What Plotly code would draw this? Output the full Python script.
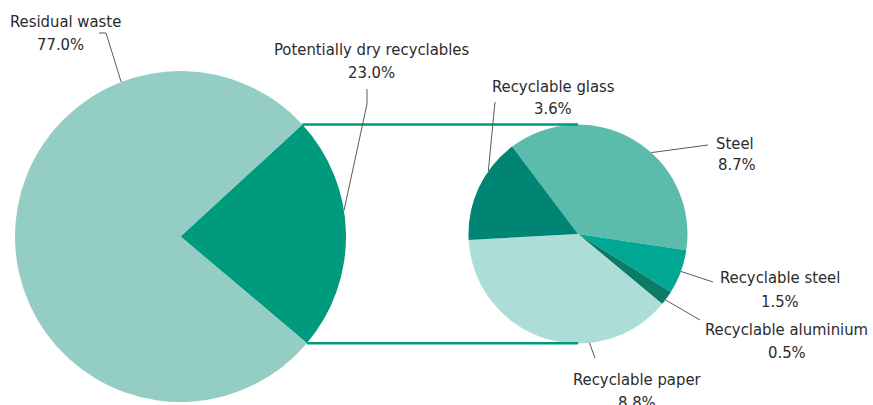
import math
import plotly.graph_objects as go

W, H = 873, 405

# Main split of household waste
main_labels = ["Potentially dry recyclables", "Residual waste"]
main_values = [23.0, 77.0]
main_colors = ["#009a7d", "#93cdc3"]

# Breakdown of the potentially dry recyclables
sub_labels = ["Steel", "Recyclable steel", "Recyclable aluminium", "Recyclable paper", "Recyclable glass"]
sub_values = [8.7, 1.5, 0.5, 8.8, 3.6]
sub_colors = ["#5bbcab", "#00a893", "#0a7c66", "#acddd8", "#008575"]

FONT = "DejaVu Sans Condensed, Liberation Sans Narrow, sans-serif"
FONT_SIZE = 16.5
TEXT_COLOR = "#2b2b2b"
LEADER_COLOR = "#5a5a5a"
LINK_COLOR = "#00997a"

# pie geometry in pixels: centre x, centre y, radius, start angle (deg, counter-clockwise from 3 o'clock)
BIG = dict(cx=180.5, cy=236.5, r=165.5, start=42.6)
SMALL = dict(cx=578.0, cy=234.0, r=109.5, start=127.0)


def px(x):
    return x / W


def py(y):
    return 1 - y / H


def domain(p):
    return dict(x=[px(p["cx"] - p["r"]), px(p["cx"] + p["r"])],
                y=[py(p["cy"] + p["r"]), py(p["cy"] - p["r"])])


def edge(p, ang):
    a = math.radians(ang)
    return p["cx"] + p["r"] * math.cos(a), p["cy"] - p["r"] * math.sin(a)


fig = go.Figure()
for p, labels, values, colors in [(BIG, main_labels, main_values, main_colors),
                                  (SMALL, sub_labels, sub_values, sub_colors)]:
    fig.add_trace(go.Pie(
        labels=labels, values=values, sort=False, direction="clockwise",
        rotation=90 - p["start"], domain=domain(p),
        marker=dict(colors=colors, line=dict(width=0)),
        textinfo="none", hoverinfo="label+percent", showlegend=False,
    ))

shapes = []

# connectors from the recyclables slice to the breakdown pie
sweep = main_values[0] / sum(main_values) * 360
for ang in (BIG["start"], BIG["start"] - sweep):
    x0, y0 = edge(BIG, ang)
    shapes.append(dict(type="line", xref="paper", yref="paper",
                       x0=px(x0), y0=py(y0), x1=px(SMALL["cx"]), y1=py(y0),
                       line=dict(color=LINK_COLOR, width=2.5)))

# label placement: name centre x, value centre x, the two baselines,
# leader path start points, pie + angle where the leader ends
label_specs = [
    ("Residual waste", main_values[1], 65, 60, (27, 50), [(99, 33), (106, 33)], BIG, 111),
    ("Potentially dry recyclables", main_values[0], 371, 371, (55, 78), [(367, 89), (367, 104)], BIG, 9),
    ("Recyclable glass", sub_values[4], 553, 553, (92, 114), [(495, 102)], SMALL, 145),
    ("Steel", sub_values[0], 735, 737, (149, 170), [(708, 145)], SMALL, 48),
    ("Recyclable steel", sub_values[1], 780, 780, (283, 307), [(713, 282)], SMALL, -20),
    ("Recyclable aluminium", sub_values[2], 786.5, 786.5, (335, 358), [(700, 320)], SMALL, -37),
    ("Recyclable paper", sub_values[3], 637, 637, (385, 408), [(595, 358)], SMALL, -84),
]

annotations = []
for name, val, nx, vx, (b1, b2), pts, pie, ang in label_specs:
    for text, tx, base in ((name, nx, b1), (f"{val:.1f}%", vx, b2)):
        annotations.append(dict(
            text=text, x=px(tx), y=py(base - 0.36 * FONT_SIZE), xref="paper", yref="paper",
            xanchor="center", yanchor="middle", align="center", showarrow=False,
            font=dict(family=FONT, size=FONT_SIZE, color=TEXT_COLOR),
        ))
    path = pts + [edge(pie, ang)]
    d = "M " + " L ".join(f"{px(x):.5f},{py(y):.5f}" for x, y in path)
    shapes.append(dict(type="path", xref="paper", yref="paper", path=d,
                       line=dict(color=LEADER_COLOR, width=1)))

fig.update_layout(
    width=W, height=H, margin=dict(l=0, r=0, t=0, b=0),
    paper_bgcolor="white", plot_bgcolor="white",
    shapes=shapes, annotations=annotations,
)

fig.write_html("out.html")
